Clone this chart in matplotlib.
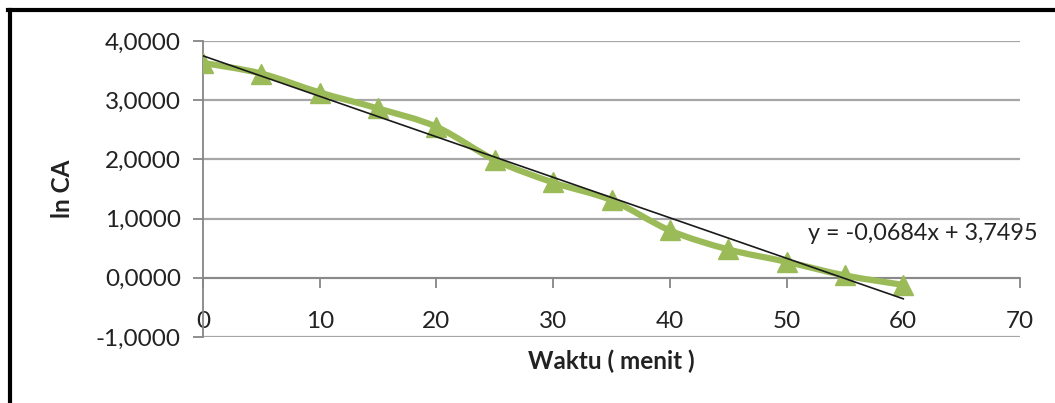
import matplotlib
matplotlib.use("Agg")
import matplotlib.pyplot as plt
from matplotlib.path import Path
from matplotlib.patches import PathPatch
from matplotlib.lines import Line2D
from matplotlib.ticker import FuncFormatter
import numpy as np

# ---- data ----
waktu = [0, 5, 10, 15, 20, 25, 30, 35, 40, 45, 50, 55, 60]
ln_ca = [3.63, 3.45, 3.13, 2.86, 2.55, 1.99, 1.61, 1.31, 0.80, 0.48, 0.27, 0.04, -0.12]
slope = -0.0684
intercept = 3.7495
x_ticks = [0, 10, 20, 30, 40, 50, 60, 70]
y_ticks = [-1, 0, 1, 2, 3, 4]
x_label = "Waktu ( menit )"
y_label = "ln CA"
eq_text = "y = -0,0684x + 3,7495"

GREEN = "#9BBB59"
GRID = "#a6a6a6"
AXIS = "#868686"
FONT = "Lato"
FS = 17.5

fig = plt.figure(figsize=(10.55, 4.03), dpi=100)
ax = fig.add_axes([203/1055, 1-337/403, (1020-203)/1055, (337-41)/403])

ax.set_xlim(0, 70)
ax.set_ylim(-1, 4)
ax.set_yticks(y_ticks)
ax.set_xticks(x_ticks)
ax.yaxis.set_major_formatter(FuncFormatter(lambda v, p: f"{v:.4f}".replace(".", ",")))
ax.xaxis.set_major_formatter(FuncFormatter(lambda v, p: f"{int(v)}"))

for s in ["top", "right"]:
    ax.spines[s].set_visible(False)
ax.spines["bottom"].set_position(("data", 0))
ax.spines["bottom"].set_color(AXIS)
ax.spines["left"].set_color(AXIS)
ax.spines["bottom"].set_linewidth(1.3)
ax.spines["left"].set_linewidth(1.3)
ax.grid(axis="y", color=GRID, linewidth=1.6)
ax.set_axisbelow(True)
ax.tick_params(axis="y", direction="out", length=7, width=1.3, color=AXIS, pad=9,
               labelsize=FS, labelcolor="#222222")
ax.tick_params(axis="x", direction="out", length=7, width=1.3, color=AXIS, pad=17,
               labelsize=FS, labelcolor="#222222")
for lab in ax.get_xticklabels() + ax.get_yticklabels():
    lab.set_fontfamily(FONT)

# smoothed series line (Catmull-Rom -> cubic Bezier)
xs = np.array(waktu, dtype=float)
ys = np.array(ln_ca, dtype=float)
verts = [(xs[0], ys[0])]
codes = [Path.MOVETO]
n = len(xs)
for i in range(n - 1):
    p0 = np.array([xs[max(i-1, 0)], ys[max(i-1, 0)]])
    p1 = np.array([xs[i], ys[i]])
    p2 = np.array([xs[i+1], ys[i+1]])
    p3 = np.array([xs[min(i+2, n-1)], ys[min(i+2, n-1)]])
    c1 = p1 + (p2 - p0) / 6.0
    c2 = p2 - (p3 - p1) / 6.0
    verts += [tuple(c1), tuple(c2), tuple(p2)]
    codes += [Path.CURVE4] * 3
ax.add_patch(PathPatch(Path(verts, codes), facecolor="none", edgecolor=GREEN,
                       linewidth=4.5, capstyle="round", joinstyle="round", zorder=3))
ax.plot(waktu, ln_ca, linestyle="none", marker="^", markersize=15,
        color=GREEN, markeredgecolor=GREEN, zorder=4)

# trendline
tx = np.array([waktu[0], waktu[-1]], dtype=float)
ax.plot(tx, slope * tx + intercept, color="#1a1a1a", linewidth=1.2, zorder=5)
ax.text(51.8, 0.74, eq_text, fontsize=16.8, fontfamily=FONT, color="#222222",
        va="center", ha="left", zorder=6)

ax.set_xlabel(x_label, fontsize=FS, fontweight="bold", fontfamily=FONT, color="#222222")
ax.xaxis.set_label_coords(0.5, -0.042)
ax.set_ylabel(y_label, fontsize=FS, fontweight="bold", fontfamily=FONT, color="#222222")
ax.yaxis.set_label_coords(-0.158, 0.5)

# outer frame (top and left edges)
fig.add_artist(Line2D([9.5/1055, 9.5/1055], [0, 1-9.5/403], transform=fig.transFigure,
                      color="black", linewidth=3))
fig.add_artist(Line2D([8/1055, 1], [1-9.5/403, 1-9.5/403], transform=fig.transFigure,
                      color="black", linewidth=3))

fig.savefig("out.png", dpi=100)
